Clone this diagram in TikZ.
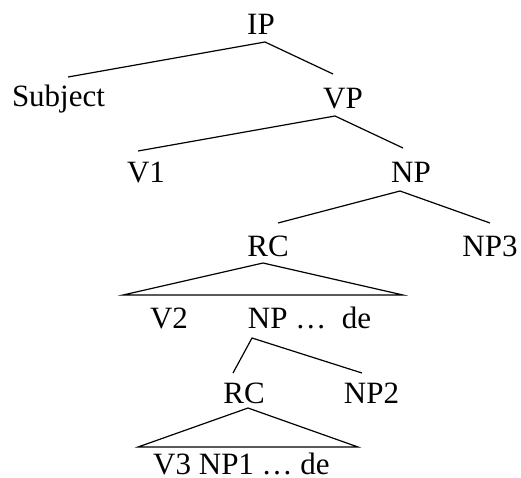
\documentclass[tikz,border=0pt]{standalone}
\usepackage{fontspec}
\setmainfont{Liberation Serif}
\begin{document}
\begin{tikzpicture}[x=1pt,y=-1pt,
  lbl/.style={anchor=base,inner sep=0pt,font=\fontsize{31}{34}\selectfont},
  br/.style={line width=1.2pt}]
\useasboundingbox (0,0) rectangle (521,477);
% labels
\node[lbl] (ip) at (261,34) {IP};
\node[lbl] (subj) at (58.5,106) {Subject};
\node[lbl] (vp) at (343,108) {VP};
\node[lbl] (v1) at (146,182) {V1};
\node[lbl] (np) at (411,182) {NP};
\node[lbl] (rc) at (268,256) {RC};
\node[lbl] (np3) at (490,256) {NP3};
\node[lbl] (v2) at (169,328) {V2};
\node[lbl] (npde) at (309.5,328) {NP …\ \ de};
\node[lbl] (rc2) at (244,403) {RC};
\node[lbl] (np2) at (371.5,403) {NP2};
\node[lbl,text depth=0pt] (v3) at (241.5,474) {V3 NP1 … de};
% branch points
\coordinate (ipA) at (265,42);
\coordinate (subjT) at (68,77);
\coordinate (vpT) at (333,74);
\coordinate (vpA) at (335,116);
\coordinate (v1T) at (138,151);
\coordinate (npT) at (403,148);
\coordinate (npA) at (400,191);
\coordinate (rcT) at (278,223);
\coordinate (np3T) at (490,223);
\coordinate (rcA) at (263,263);
\coordinate (rcL) at (123,295);
\coordinate (rcR) at (403,295);
\coordinate (npdeA) at (252,338);
\coordinate (rc2T) at (233,373);
\coordinate (np2T) at (362,373);
\coordinate (rc2A) at (248,408);
\coordinate (rc2L) at (138,447);
\coordinate (rc2R) at (358,447);
% branches
\draw[br] (subjT) -- (ipA) -- (vpT);
\draw[br] (v1T) -- (vpA) -- (npT);
\draw[br] (rcT) -- (npA) -- (np3T);
\draw[br,line join=miter] (rcL) -- (rcA) -- (rcR) -- cycle;
\draw[br] (rc2T) -- (npdeA) -- (np2T);
\draw[br,line join=miter] (rc2L) -- (rc2A) -- (rc2R) -- cycle;
\end{tikzpicture}
\end{document}
